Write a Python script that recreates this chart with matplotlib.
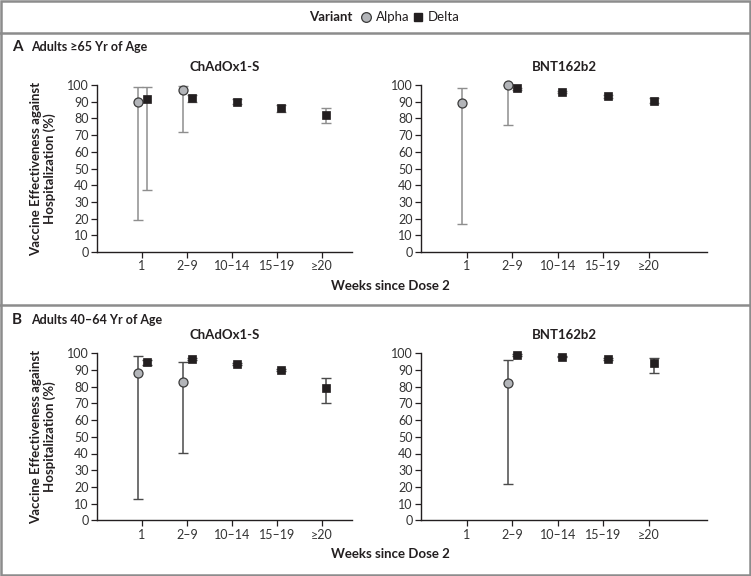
"""
Vaccine effectiveness against hospitalization by weeks since dose 2,
Alpha vs Delta, for ChAdOx1-S and BNT162b2 in two age groups.
"""
import numpy as np
import matplotlib
matplotlib.use("Agg")
import matplotlib.pyplot as plt
from matplotlib.patches import Rectangle
from matplotlib.lines import Line2D

plt.rcParams["font.family"] = ["Lato", "DejaVu Sans"]

nan = np.nan
weeks = ["1", "2\u20139", "10\u201314", "15\u201319", "\u226520"]
vaccines = ["ChAdOx1-S", "BNT162b2"]
panels = ["Adults \u226565 Yr of Age", "Adults 40\u201364 Yr of Age"]

# --- Panel A: adults >=65 ---
a_chad_alpha = [90, 97, nan, nan, nan]
a_chad_alpha_lo = [19, 72, nan, nan, nan]
a_chad_alpha_hi = [99, 99.5, nan, nan, nan]
a_chad_delta = [91.5, 92, 90, 86, 82]
a_chad_delta_lo = [37, 90, 88.5, 84, 77]
a_chad_delta_hi = [99, 94, 91.5, 88, 86]

a_bnt_alpha = [89, 100, nan, nan, nan]
a_bnt_alpha_lo = [17, 76, nan, nan, nan]
a_bnt_alpha_hi = [98.5, 100, nan, nan, nan]
a_bnt_delta = [nan, 98, 96, 93.5, 90.5]
a_bnt_delta_lo = [nan, 97, 95.5, 92.5, 89]
a_bnt_delta_hi = [nan, 98.5, 96.5, 94, 92]

# --- Panel B: adults 40-64 ---
b_chad_alpha = [88.5, 83, nan, nan, nan]
b_chad_alpha_lo = [13, 40.5, nan, nan, nan]
b_chad_alpha_hi = [98.5, 95, nan, nan, nan]
b_chad_delta = [94.5, 96.5, 93.5, 90, 79]
b_chad_delta_lo = [93, 96, 93, 89.5, 70.5]
b_chad_delta_hi = [96, 97, 94, 90.5, 85.5]

b_bnt_alpha = [nan, 82, nan, nan, nan]
b_bnt_alpha_lo = [nan, 22, nan, nan, nan]
b_bnt_alpha_hi = [nan, 96, nan, nan, nan]
b_bnt_delta = [nan, 99, 98, 96.5, 94]
b_bnt_delta_lo = [nan, 98.5, 97.5, 96, 88]
b_bnt_delta_hi = [nan, 99.5, 98.5, 97, 97]

ALPHA_FACE = "#b3b5b9"
DARK = "#231f20"
BORDER = "#8c8c8c"

W, H = 751, 576
fig = plt.figure(figsize=(W / 100, H / 100), dpi=100)


def px_axes(x0, y_top, x1, y_bot):
    return fig.add_axes([x0 / W, 1 - y_bot / H, (x1 - x0) / W, (y_bot - y_top) / H])


def draw(ax, alpha, alo, ahi, delta, dlo, dhi, ecolor, xmax, title):
    x = np.arange(1, len(weeks) + 1)
    alpha, alo, ahi = map(np.array, (alpha, alo, ahi))
    delta, dlo, dhi = map(np.array, (delta, dlo, dhi))
    xa, xd = x - 0.1, x + 0.1
    ax.errorbar(xa, alpha, yerr=[alpha - alo, ahi - alpha], fmt="none",
                ecolor=ecolor, elinewidth=1.1, capsize=3.5, capthick=1.0,
                clip_on=False, zorder=2)
    ax.errorbar(xd, delta, yerr=[delta - dlo, dhi - delta], fmt="none",
                ecolor=ecolor, elinewidth=1.1, capsize=3.5, capthick=1.0,
                clip_on=False, zorder=2)
    ax.plot(xa, alpha, "o", ms=6.5, mfc=ALPHA_FACE, mec="#3a3a3a", mew=0.9,
            ls="none", clip_on=False, zorder=3)
    ax.plot(xd, delta, "s", ms=6, mfc=DARK, mec=DARK, mew=0.5,
            ls="none", clip_on=False, zorder=3)

    ax.set_xlim(0, xmax)
    ax.set_ylim(0, 100)
    ax.set_xticks(x)
    ax.set_xticklabels(weeks)
    ax.set_yticks(np.arange(0, 101, 10))
    for s in ("top", "right"):
        ax.spines[s].set_visible(False)
    for s in ("left", "bottom"):
        ax.spines[s].set_linewidth(1.0)
        ax.spines[s].set_color(DARK)
    ax.tick_params(axis="both", direction="out", length=4, width=0.9,
                   color=DARK, labelsize=9, labelcolor="#333333", pad=2)
    ax.set_title(title, fontsize=9.5, fontweight="bold", color=DARK, pad=10)


rows = [
    (85, 252, (a_chad_alpha, a_chad_alpha_lo, a_chad_alpha_hi,
               a_chad_delta, a_chad_delta_lo, a_chad_delta_hi),
     (a_bnt_alpha, a_bnt_alpha_lo, a_bnt_alpha_hi,
      a_bnt_delta, a_bnt_delta_lo, a_bnt_delta_hi), "#8e8e8e"),
    (353.3, 520.3, (b_chad_alpha, b_chad_alpha_lo, b_chad_alpha_hi,
                    b_chad_delta, b_chad_delta_lo, b_chad_delta_hi),
     (b_bnt_alpha, b_bnt_alpha_lo, b_bnt_alpha_hi,
      b_bnt_delta, b_bnt_delta_lo, b_bnt_delta_hi), "#4a4a4a"),
]

for i, (top, bot, left_data, right_data, ecol) in enumerate(rows):
    axl = px_axes(97, top, 352, bot)
    draw(axl, *left_data, ecolor=ecol, xmax=255 / 45, title=vaccines[0])
    axr = px_axes(421, top, 707, bot)
    draw(axr, *right_data, ecolor=ecol, xmax=286 / 45.6, title=vaccines[1])

    # axis labels
    fig.text(43 / W, 1 - ((top + bot) / 2) / H,
             "Vaccine Effectiveness against\nHospitalization (%)",
             rotation=90, ha="center", va="center", fontsize=9.5,
             fontweight="bold", color=DARK, linespacing=1.15)
    fig.text(390 / W, 1 - (bot + 34) / H, "Weeks since Dose 2",
             ha="center", va="center", fontsize=9.5, fontweight="bold", color=DARK)

    # panel header
    hy = 47 if i == 0 else 320
    fig.text(12 / W, 1 - hy / H, "AB"[i], ha="left", va="center",
             fontsize=11, fontweight="bold", color=DARK)
    fig.text(31 / W, 1 - hy / H, panels[i], ha="left", va="center",
             fontsize=9, fontweight="bold", color=DARK)

# --- borders ---
fig.patches.append(Rectangle((1 / W, 1 / H), (W - 2) / W, (H - 2) / H,
                             transform=fig.transFigure, fill=False,
                             ec=BORDER, lw=1.8))
for yy in (33, 305):
    fig.add_artist(Line2D([0, 1], [1 - yy / H] * 2, transform=fig.transFigure,
                          color=BORDER, lw=1.8))

# --- legend strip ---
ly = 1 - 17 / H
fig.text(352 / W, ly, "Variant", ha="right", va="center", fontsize=9.5,
         fontweight="bold", color=DARK)
fig.add_artist(Line2D([366 / W], [ly], transform=fig.transFigure, marker="o",
                      ms=7, mfc=ALPHA_FACE, mec="#3a3a3a", mew=0.9, ls="none"))
fig.text(376 / W, ly, "Alpha", ha="left", va="center", fontsize=9.5, color=DARK)
fig.add_artist(Line2D([418 / W], [ly], transform=fig.transFigure, marker="s",
                      ms=6, mfc=DARK, mec=DARK, ls="none"))
fig.text(428 / W, ly, "Delta", ha="left", va="center", fontsize=9.5, color=DARK)

fig.savefig("out.png", dpi=100)
